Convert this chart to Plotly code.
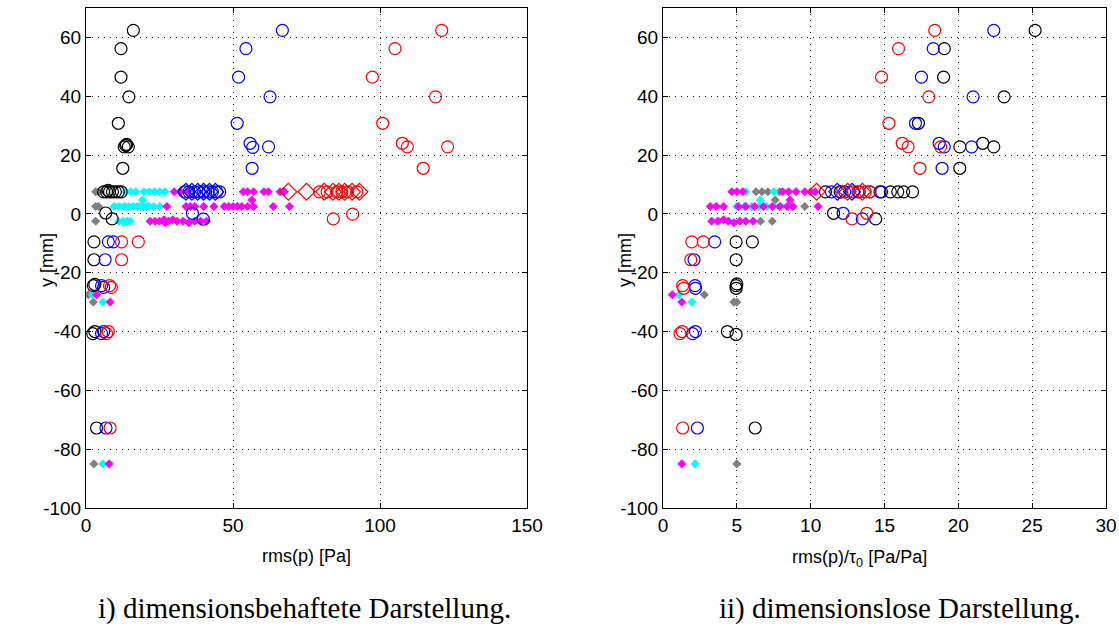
import plotly.graph_objects as go

# ---------------- data: left panel (rms(p) [Pa]) ----------------
blackL_x = [16.1, 11.9, 11.9, 14.6, 11.0, 13.0, 13.8, 14.4, 13.5, 12.5,
            6.0, 7.0, 8.0, 9.0, 10.0, 11.0, 12.0, 7.5, 6.7, 8.9,
            2.7, 2.7, 2.5, 3.0, 2.3, 3.0, 3.6]
blackL_y = [62.4, 56.2, 46.5, 39.8, 30.8, 22.8, 23.6, 22.8, 23.3, 15.5,
            7.5, 7.5, 7.5, 7.5, 7.5, 7.5, 7.5, 8.0, 0.3, -1.7,
            -9.5, -15.6, -24.4, -24.0, -40.7, -40.0, -72.8]
blueL_x = [66.8, 54.4, 51.9, 62.6, 51.4, 55.8, 56.7, 62.1, 56.5,
           33.5, 35.0, 37.0, 38.5, 40.0, 41.5, 43.0, 44.5, 45.5,
           36.2, 39.9, 7.6, 9.3, 6.5, 5.3, 6.0, 5.3, 6.0, 6.8]
blueL_y = [62.4, 56.2, 46.5, 39.8, 30.8, 24.0, 22.6, 22.8, 15.5,
           7.5, 7.5, 7.5, 7.5, 7.5, 7.5, 7.5, 7.5, 7.5,
           0.2, -1.8, -9.5, -9.5, -15.6, -24.4, -25.0, -40.7, -40.0, -72.8]
redL_x = [121.0, 105.1, 97.4, 118.9, 100.9, 107.6, 109.3, 123.0, 114.7,
          79.4, 82.0, 85.3, 87.0, 89.0, 92.1, 84.1, 90.7,
          12.1, 17.8, 12.1, 8.0, 8.6, 7.0, 7.6, 8.2]
redL_y = [62.4, 56.2, 46.5, 39.8, 30.8, 24.0, 22.8, 22.8, 15.5,
          7.5, 7.5, 7.5, 7.5, 7.5, 7.5, -1.7, -0.1,
          -9.5, -9.5, -15.6, -24.4, -25.0, -40.7, -40.0, -72.8]
redDiamL_x = [68.8, 75.0, 81.0, 84.0, 86.0, 88.0, 90.5, 93.0]
redDiamL_y = [7.5, 7.5, 7.5, 7.5, 7.5, 7.5, 7.5, 7.5]
blueDiamL_x = [34.0, 36.0, 38.0, 40.0, 42.0, 44.0]
blueDiamL_y = [7.5, 7.5, 7.5, 7.5, 7.5, 7.5]
cyanL_x = [13.5, 15.2, 16.9, 19.7, 21.5, 23.3, 25.0, 26.8, 19.2,
           9.5, 11.2, 13.0, 14.5, 16.0, 17.5, 18.5, 19.5, 20.5, 21.5, 23.0, 25.0,
           11.2, 12.5, 13.8, 15.0, 12.8, 2.3, 5.7, 5.7]
cyanL_y = [7.5, 7.5, 7.5, 7.5, 7.5, 7.5, 7.5, 7.5, 4.7,
           2.5, 2.5, 2.5, 2.5, 2.5, 2.5, 2.5, 2.5, 2.5, 2.5, 2.5, 2.5,
           -2.5, -2.5, -2.5, -2.5, -3.0, -27.5, -30.0, -85.0]
magL_x = [30.0, 32.0, 34.5, 53.5, 55.0, 57.0, 60.5, 62.0, 66.0, 67.5, 56.4,
          27.5, 34.0, 35.5, 37.0, 40.0, 43.5, 47.0, 48.5, 50.0, 51.5, 53.0, 55.0, 57.0, 63.7, 69.2,
          21.8, 23.5, 25.0, 26.5, 27.0, 28.0, 29.5, 31.0, 33.0, 35.0, 37.0, 39.0, 41.0,
          3.6, 8.2, 7.9]
magL_y = [7.5, 7.5, 7.5, 7.5, 7.5, 7.5, 7.5, 7.5, 7.5, 7.5, 4.7,
          2.5, 2.5, 2.5, 2.5, 2.5, 2.5, 2.5, 2.5, 2.5, 2.5, 2.5, 2.5, 2.5, 2.5, 2.5,
          -2.5, -2.5, -2.5, -2.0, -3.0, -2.5, -2.0, -2.5, -2.5, -3.0, -2.5, -2.5, -2.5,
          -27.5, -30.0, -85.0]
grayL_x = [3.3, 4.3, 3.3, 4.3, 3.3, 0.8, 2.5, 2.7]
grayL_y = [7.5, 7.5, 2.5, 2.5, -2.5, -27.5, -30.0, -85.0]

# ---------------- data: right panel (rms(p)/tau0 [Pa/Pa]) ----------------
blackR_x = [25.2, 19.05, 19.0, 23.1, 17.3, 20.1, 21.65, 22.4, 20.1,
            11.0, 12.0, 14.7, 15.4, 15.9, 16.3, 16.9, 11.55, 14.4,
            4.95, 6.05, 4.95, 4.95, 4.95, 5.0, 4.36, 4.95, 6.24]
blackR_y = [62.4, 56.2, 46.5, 39.8, 30.8, 22.8, 24.0, 22.8, 15.5,
            7.5, 7.5, 7.5, 7.5, 7.5, 7.5, 7.5, 0.2, -1.7,
            -9.5, -9.5, -15.6, -24.4, -25.3, -23.8, -40.0, -41.0, -72.8]
blueR_x = [22.4, 18.3, 17.5, 21.0, 17.1, 18.7, 19.05, 20.9, 18.9,
           11.4, 12.3, 13.2, 14.0, 14.8, 12.2, 13.5,
           3.5, 2.1, 2.17, 2.2, 2.0, 2.2, 2.33]
blueR_y = [62.4, 56.2, 46.5, 39.8, 30.8, 24.0, 22.8, 22.8, 15.5,
           7.5, 7.5, 7.5, 7.5, 7.5, 0.2, -1.7,
           -9.5, -15.6, -24.4, -25.3, -40.7, -40.0, -72.8]
redR_x = [18.4, 15.95, 14.8, 18.0, 15.3, 16.2, 16.6, 18.8, 17.4,
          12.1, 12.9, 13.3, 13.7, 14.0, 12.8, 13.8,
          1.95, 2.73, 1.88, 1.33, 1.4, 1.15, 1.3, 1.33]
redR_y = [62.4, 56.2, 46.5, 39.8, 30.8, 24.0, 22.8, 22.8, 15.5,
          7.5, 7.5, 7.5, 7.5, 7.5, -1.7, 0.2,
          -9.5, -9.5, -15.6, -24.4, -25.3, -40.7, -40.0, -72.8]
redDiamR_x = [10.4, 12.5, 13.5]
redDiamR_y = [7.5, 7.5, 7.5]
blueDiamR_x = [11.8, 12.8]
blueDiamR_y = [7.5, 7.5]
cyanR_x = [5.6, 7.5, 6.58, 5.0, 5.5, 6.0, 6.5, 7.0, 7.5, 8.0, 8.5,
           3.8, 4.5, 1.08, 1.95, 2.17]
cyanR_y = [7.5, 7.5, 4.7, 2.5, 2.5, 2.5, 2.5, 2.5, 2.5, 2.5, 2.5,
           -2.5, -2.5, -27.5, -30.0, -85.0]
magR_x = [4.66, 5.0, 5.4, 8.1, 8.5, 9.0, 9.6, 10.0, 10.3, 8.6,
          3.2, 3.6, 4.1, 5.1, 5.6, 6.2, 6.8, 7.4, 7.9, 8.4, 8.8, 10.5,
          3.3, 3.7, 4.1, 4.4, 4.8, 5.2, 5.6, 6.1, 0.63, 1.27, 1.27]
magR_y = [7.5, 7.5, 7.5, 7.5, 7.5, 7.5, 7.5, 7.5, 7.5, 4.7,
          2.5, 2.5, 2.5, 2.5, 2.5, 2.5, 2.5, 2.5, 2.5, 2.5, 2.5, 2.5,
          -2.5, -2.5, -2.0, -2.5, -3.0, -2.5, -2.5, -2.5, -27.5, -30.0, -85.0]
grayR_x = [6.3, 6.7, 7.1, 7.9, 7.6, 9.6, 6.6, 7.4, 2.8, 4.8, 5.0, 5.0]
grayR_y = [7.5, 7.5, 7.5, 7.5, 4.7, 2.5, -2.5, -2.5, -27.5, -30.0, -30.0, -85.0]

y_ticks = [-100, -80, -60, -40, -20, 0, 20, 40, 60]
y_ticktext = ["-100", "-80", "-60", "-40", "-20", "0", "20", "40", "60"]
xL_ticks = [0, 50, 100, 150]
xR_ticks = [0, 5, 10, 15, 20, 25, 30]

captions = ["i) dimensionsbehaftete Darstellung.", "ii) dimensionslose Darstellung."]
xL_title = "rms(p) [Pa]"
xR_title = "rms(p)/τ<sub>0</sub> [Pa/Pa]"
y_title = "y [mm]"

BLACK, BLUE, RED = "#000000", "#0000FF", "#FF0000"
GRAY, CYAN, MAG = "#808080", "#00FFFF", "#FF00FF"

fig = go.Figure()

def diam(x, y, c, xa, ya):
    fig.add_trace(go.Scatter(x=x, y=y, mode="markers", xaxis=xa, yaxis=ya,
                             marker=dict(symbol="diamond", size=7, color=c, line=dict(width=0)),
                             showlegend=False, hoverinfo="skip"))

def circ(x, y, c, xa, ya):
    fig.add_trace(go.Scatter(x=x, y=y, mode="markers", xaxis=xa, yaxis=ya,
                             marker=dict(symbol="circle-open", size=12, color=c, line=dict(width=1.2, color=c)),
                             showlegend=False, hoverinfo="skip"))

def odiam(x, y, c, xa, ya):
    fig.add_trace(go.Scatter(x=x, y=y, mode="markers", xaxis=xa, yaxis=ya,
                             marker=dict(symbol="diamond-open", size=13, color=c, line=dict(width=1.2, color=c)),
                             showlegend=False, hoverinfo="skip"))

for xa, ya, g, cy, m, bk, bl, rd, bd, rdd in [
    ("x", "y", (grayL_x, grayL_y), (cyanL_x, cyanL_y), (magL_x, magL_y),
     (blackL_x, blackL_y), (blueL_x, blueL_y), (redL_x, redL_y),
     (blueDiamL_x, blueDiamL_y), (redDiamL_x, redDiamL_y)),
    ("x2", "y2", (grayR_x, grayR_y), (cyanR_x, cyanR_y), (magR_x, magR_y),
     (blackR_x, blackR_y), (blueR_x, blueR_y), (redR_x, redR_y),
     (blueDiamR_x, blueDiamR_y), (redDiamR_x, redDiamR_y))]:
    diam(*g, GRAY, xa, ya)
    diam(*cy, CYAN, xa, ya)
    diam(*m, MAG, xa, ya)
    circ(*bk, BLACK, xa, ya)
    circ(*bl, BLUE, xa, ya)
    circ(*rd, RED, xa, ya)
    odiam(*bd, BLUE, xa, ya)
    odiam(*rdd, RED, xa, ya)

# the page body margin is removed by the post script, so paper == screen pixels
W, H = 1119, 637
def px(x):
    return x / W
def py(y):
    return 1 - y / H

ydom = [py(508), py(8)]
tickfont = dict(family="Liberation Sans, Arial, sans-serif", size=19, color="black")
titlefont = dict(family="Liberation Sans, Arial, sans-serif", size=18, color="black")

common = dict(showline=True, linecolor="black", linewidth=1, mirror="ticks",
              ticks="inside", ticklen=5, tickcolor="black", showgrid=True,
              gridcolor="#222222", griddash="1px,5px", gridwidth=1, zeroline=False,
              tickfont=tickfont, automargin=False)

fig.update_layout(
    width=W, height=H, margin=dict(l=0, r=0, t=0, b=0),
    paper_bgcolor="white", plot_bgcolor="white",
    xaxis=dict(domain=[px(86), px(527)], range=[0, 150], tickvals=xL_ticks, anchor="y", **common),
    yaxis=dict(domain=ydom, range=[-100, 70], tickvals=y_ticks, ticktext=y_ticktext, anchor="x", **common),
    xaxis2=dict(domain=[px(663), px(1106)], range=[0, 30], tickvals=xR_ticks, anchor="y2", **common),
    yaxis2=dict(domain=ydom, range=[-100, 70], tickvals=y_ticks, ticktext=y_ticktext, anchor="x2", **common),
)

def note(text, x, y, font, angle=0):
    fig.add_annotation(text=text, x=px(x), y=py(y), xref="paper", yref="paper",
                       showarrow=False, font=font, xanchor="center", yanchor="middle",
                       textangle=angle)

note(xL_title, 306, 556, titlefont)
note(xR_title, 859, 558, titlefont)
note(y_title, 47, 260, titlefont, -90)
note(y_title, 625, 260, titlefont, -90)

capfont = dict(family="Liberation Serif, Times New Roman, serif", size=29, color="black")
note(captions[0], 304, 608, capfont)
note(captions[1], 900, 608, capfont)

fig.write_html("out.html", config={"displayModeBar": False},
               post_script="document.body.style.margin='0px';document.body.style.overflow='hidden';")
